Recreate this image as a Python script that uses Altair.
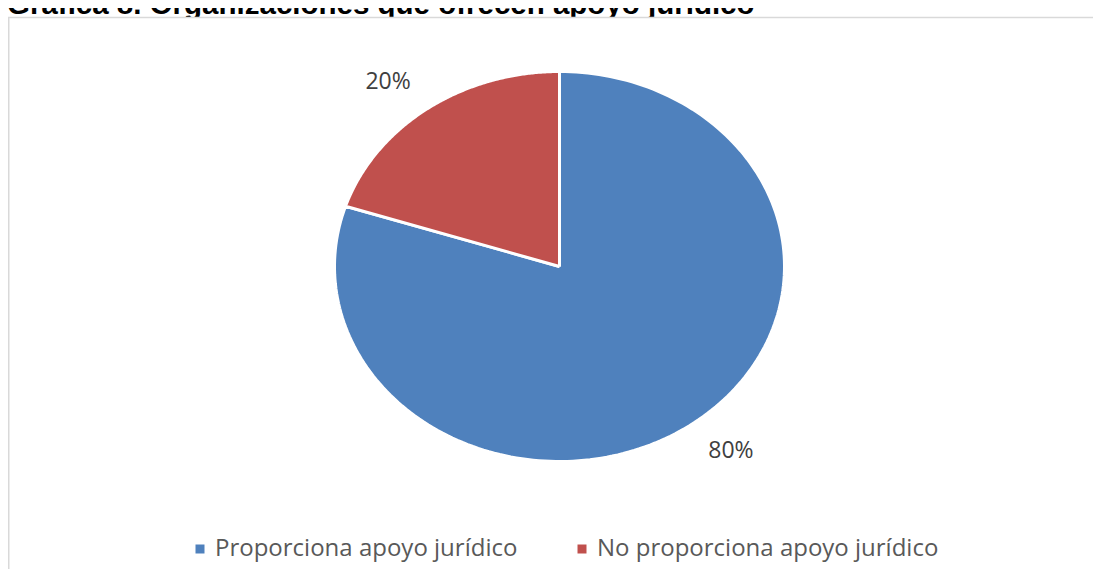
import altair as alt
import pandas as pd
import numpy as np

title_text = "Gráfica 8. Organizaciones que ofrecen apoyo jurídico"
categories = ["Proporciona apoyo jurídico", "No proporciona apoyo jurídico"]
values = [80, 20]
colors = ["#4F81BD", "#C0504D"]

total = sum(values)

# slice outlines (angle measured clockwise from 12 o'clock)
rows = []
label_rows = []
start = 0.0
STEPS = 200
for cat, v in zip(categories, values):
    a0 = start / total * 2 * np.pi
    a1 = (start + v) / total * 2 * np.pi
    pts = [(0.0, 0.0)] + [(np.sin(a), np.cos(a)) for a in np.linspace(a0, a1, STEPS)] + [(0.0, 0.0)]
    for k, (px, py) in enumerate(pts):
        rows.append({"category": cat, "order": k, "x": px, "y": py})
    mid = (a0 + a1) / 2
    sx, sy = np.sin(mid), np.cos(mid)
    label_rows.append({
        "category": cat,
        "label": f"{round(v / total * 100)}%",
        "lx": sx + np.sign(sx) * 0.174,
        "ly": sy + np.sign(sy) * 0.137,
    })
    start += v

pie_df = pd.DataFrame(rows)
label_df = pd.DataFrame(label_rows)

xscale = alt.Scale(domain=[-1, 1], range=[326.5, 776.5])
yscale = alt.Scale(domain=[-1, 1], range=[453.5, 63.5])

pie = alt.Chart(pie_df).mark_line(
    filled=True, stroke="white", strokeWidth=3, strokeJoin="miter"
).encode(
    x=alt.X("x:Q", scale=xscale, axis=None),
    y=alt.Y("y:Q", scale=yscale, axis=None),
    color=alt.Color(
        "category:N",
        scale=alt.Scale(domain=categories, range=colors),
        legend=alt.Legend(
            orient="none", legendX=180, legendY=529, direction="horizontal",
            title=None, symbolType="square", symbolSize=81, symbolStrokeWidth=0,
            labelFont="Open Sans", labelFontSize=24, labelColor="#595959",
            labelOffset=3, columnPadding=52, padding=0, labelLimit=600,
        ),
    ),
    order=alt.Order("order:Q"),
)

labels = alt.Chart(label_df).mark_text(
    font="Open Sans", fontSize=23, color="#404040", align="center", baseline="middle"
).encode(
    x=alt.X("lx:Q", scale=xscale, axis=None),
    y=alt.Y("ly:Q", scale=yscale, axis=None),
    text="label:N",
)

one = pd.DataFrame({"t": [title_text]})
title = alt.Chart(one).mark_text(
    font="Liberation Sans", fontWeight="bold", fontSize=29.5, color="black",
    align="left", baseline="alphabetic"
).encode(text="t:N", x=alt.value(-1), y=alt.value(6))

# chart area: white panel covering the title's descenders, with grey top/left edges
panel = alt.Chart(one).mark_rect(fill="white", strokeWidth=0).encode(
    x=alt.value(0), x2=alt.value(1085), y=alt.value(9), y2=alt.value(561)
)
frame_top = alt.Chart(one).mark_rule(color="#d9d9d9", strokeWidth=1.5).encode(
    x=alt.value(0), x2=alt.value(1085), y=alt.value(9.5)
)
frame_left = alt.Chart(one).mark_rule(color="#d9d9d9", strokeWidth=1.5).encode(
    x=alt.value(0.75), y=alt.value(9), y2=alt.value(561)
)

chart = alt.layer(title, panel, frame_top, frame_left, pie, labels).properties(
    width=1085, height=561, autosize=alt.AutoSizeParams(type="none"), padding=0
).configure_view(stroke=None)

chart.save("out.html", embed_options={"renderer": "svg", "actions": False})
